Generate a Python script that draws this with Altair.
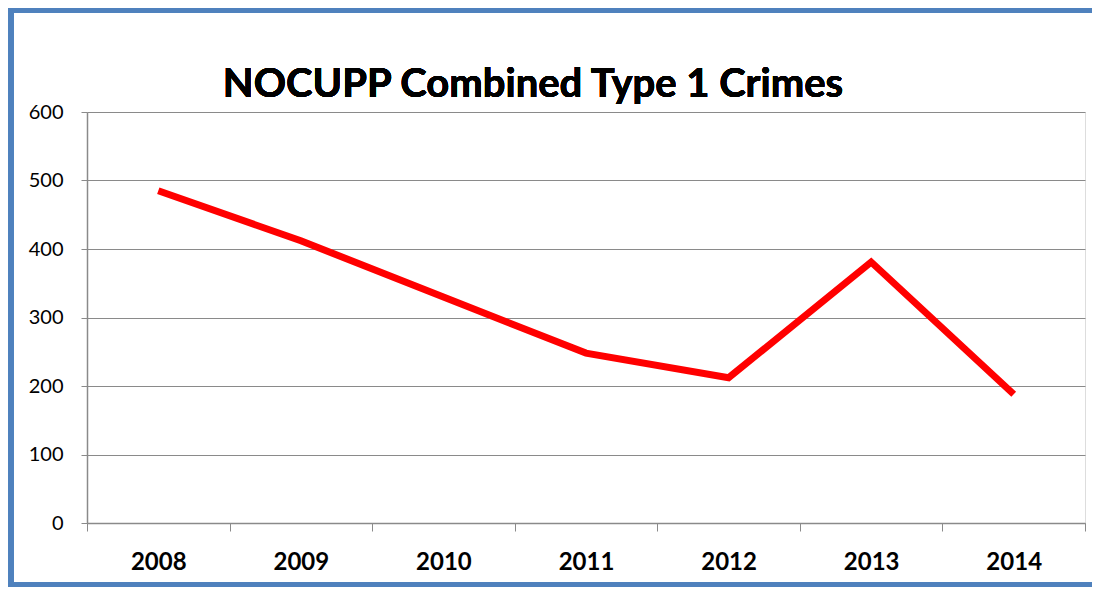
import altair as alt
import pandas as pd

years = ["2008", "2009", "2010", "2011", "2012", "2013", "2014"]
crimes = [485, 412, 330, 248, 212, 381, 188]

df = pd.DataFrame({"year": years, "crimes": crimes})

FONT = "Lato"
GRID = "#8a8a8a"

x_enc = alt.X(
    "year:N",
    sort=years,
    bandPosition=0.5,
    scale=alt.Scale(type="band", paddingInner=0, paddingOuter=0),
    axis=alt.Axis(
        title=None,
        labelAngle=0,
        labelFont=FONT,
        labelFontSize=24,
        labelFontWeight="bold",
        labelColor="#000000",
        labelPadding=19,
        tickBand="extent",
        tickSize=8,
        tickColor=GRID,
        domainColor=GRID,
        domainWidth=1.5,
        grid=False,
    ),
)

y_enc = alt.Y(
    "crimes:Q",
    scale=alt.Scale(domain=[0, 600], nice=False),
    axis=alt.Axis(
        title=None,
        values=[0, 100, 200, 300, 400, 500, 600],
        labelFont=FONT,
        labelFontSize=20,
        labelColor="#000000",
        labelPadding=18,
        tickSize=6,
        tickColor=GRID,
        domainColor=GRID,
        domainWidth=1.5,
        gridColor=GRID,
        gridWidth=1,
    ),
)

line = alt.Chart(df).mark_line(color="#ff0000", strokeWidth=7, strokeCap="butt", strokeJoin="miter").encode(
    x=x_enc, y=y_enc
)

frame = alt.Chart(df).mark_rect(
    fill=None, stroke="#4f81bd", strokeWidth=5, clip=False
).encode(
    x=alt.value(-76), x2=alt.value(1030), y=alt.value(-102), y2=alt.value(473)
)

title = alt.Chart(df).mark_text(
    text="NOCUPP Combined Type 1 Crimes",
    font=FONT,
    fontSize=40,
    fontWeight="bold",
    color="#000000",
    align="center",
    baseline="alphabetic",
    clip=False,
).encode(x=alt.value(446), y=alt.value(-15))

chart = alt.layer(line, frame, title).properties(
    width=998,
    height=411,
    autosize=alt.AutoSizeParams(type="none"),
    padding={"left": 79, "top": 104, "right": 7, "bottom": 64},
).configure_view(stroke=None).configure(background="white")

chart.save("out.html", embed_options={"renderer": "svg", "actions": False})
